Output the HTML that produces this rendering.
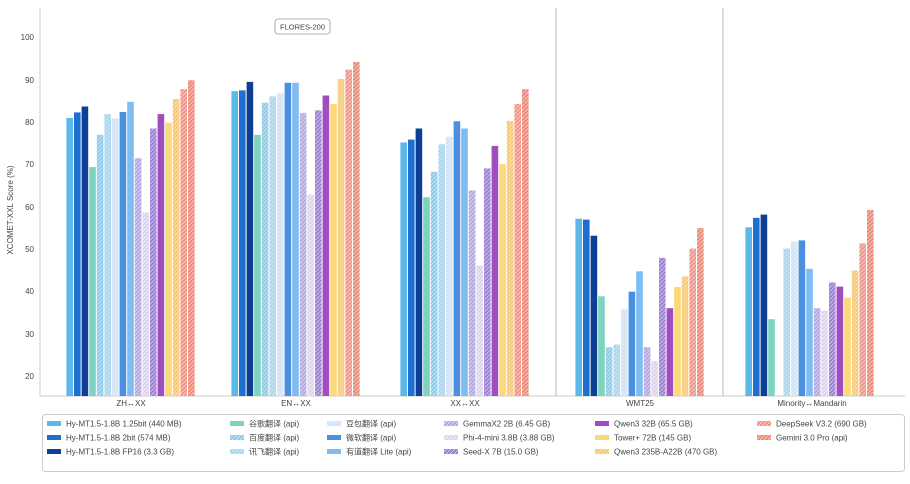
<!DOCTYPE html>
<html><head><meta charset="utf-8"><style>
html,body{margin:0;padding:0;background:#fff;}
svg{display:block;font-family:"Liberation Sans","Noto Sans CJK SC",sans-serif;}
.s0{fill:#5bb8e8}.s1{fill:#1f6fd1}.s2{fill:#0d3f94}.s3{fill:#7dd3c0}
.s4{fill:url(#p4)}.s5{fill:url(#p5)}.s6{fill:url(#p6)}.s7{fill:#4a8fe0}.s8{fill:#7fbcef}
.s9{fill:url(#p9)}.s10{fill:url(#p10)}.s11{fill:url(#p11)}.s12{fill:#a04dc0}.s13{fill:#fbd87a}
.s14{fill:url(#p14)}.s15{fill:url(#p15)}.s16{fill:url(#p16)}
.t{font-size:8px;fill:#444}
.lg{font-size:8px;fill:#444}
</style></head><body>
<svg width="910" height="484" viewBox="0 0 910 484" xmlns="http://www.w3.org/2000/svg">
<defs>
<pattern id="p4" width="4" height="4" patternUnits="userSpaceOnUse"><rect width="4" height="4" fill="#8ec9e8"/><path d="M0 4L4 0" stroke="#fff" stroke-width="0.8" opacity="0.6"/></pattern>
<pattern id="p5" width="4" height="4" patternUnits="userSpaceOnUse"><rect width="4" height="4" fill="#a8d4ee"/><path d="M0 4L4 0" stroke="#fff" stroke-width="0.8" opacity="0.6"/></pattern>
<pattern id="p6" width="4" height="4" patternUnits="userSpaceOnUse"><rect width="4" height="4" fill="#cfe3f5"/><path d="M0 4L4 0" stroke="#fff" stroke-width="0.8" opacity="0.6"/></pattern>
<pattern id="p9" width="4" height="4" patternUnits="userSpaceOnUse"><rect width="4" height="4" fill="#b4a8e0"/><path d="M0 4L4 0" stroke="#fff" stroke-width="0.8" opacity="0.6"/></pattern>
<pattern id="p10" width="4" height="4" patternUnits="userSpaceOnUse"><rect width="4" height="4" fill="#ddd5ef"/><path d="M0 4L4 0" stroke="#fff" stroke-width="0.8" opacity="0.6"/></pattern>
<pattern id="p11" width="4" height="4" patternUnits="userSpaceOnUse"><rect width="4" height="4" fill="#9b7fd6"/><path d="M0 4L4 0" stroke="#fff" stroke-width="0.8" opacity="0.6"/></pattern>
<pattern id="p14" width="4" height="4" patternUnits="userSpaceOnUse"><rect width="4" height="4" fill="#f7c873"/><path d="M0 4L4 0" stroke="#fff" stroke-width="0.8" opacity="0.6"/></pattern>
<pattern id="p15" width="4" height="4" patternUnits="userSpaceOnUse"><rect width="4" height="4" fill="#f0958a"/><path d="M0 4L4 0" stroke="#fff" stroke-width="0.8" opacity="0.6"/></pattern>
<pattern id="p16" width="4" height="4" patternUnits="userSpaceOnUse"><rect width="4" height="4" fill="#ee8a78"/><path d="M0 4L4 0" stroke="#fff" stroke-width="0.8" opacity="0.6"/></pattern>
</defs>

<!-- axes -->
<line x1="40" y1="8" x2="40" y2="396" stroke="#ccc"/>
<line x1="40" y1="396" x2="905" y2="396" stroke="#ccc"/>
<line x1="556" y1="8" x2="556" y2="396" stroke="#bbb"/>
<line x1="723" y1="8" x2="723" y2="396" stroke="#bbb"/>

<g class="t" text-anchor="end">
<text x="34" y="379">20</text><text x="34" y="337">30</text><text x="34" y="294">40</text>
<text x="34" y="252">50</text><text x="34" y="210">60</text><text x="34" y="167">70</text>
<text x="34" y="125">80</text><text x="34" y="83">90</text><text x="34" y="40">100</text>
</g>
<text class="t" transform="translate(13,210) rotate(-90)" text-anchor="middle">XCOMET-XXL Score (%)</text>

<rect x="275" y="19" width="55" height="15" rx="3" fill="#fff" stroke="#999" stroke-width="0.8"/>
<text x="302.5" y="29.5" font-size="7.5" fill="#444" text-anchor="middle">FLORES-200</text>

<g class="t" text-anchor="middle">
<text x="131" y="406">ZH↔XX</text><text x="296" y="406">EN↔XX</text><text x="465" y="406">XX↔XX</text>
<text x="640" y="406">WMT25</text><text x="812" y="406">Minority↔Mandarin</text>
</g>

<!-- G1 -->
<g transform="translate(66.4,0)">
<rect class="s0" x="0" y="117.9" width="6.6" height="278.1"/>
<rect class="s1" x="7.6" y="112.4" width="6.6" height="283.6"/>
<rect class="s2" x="15.2" y="106.5" width="6.6" height="289.5"/>
<rect class="s3" x="22.8" y="167.1" width="6.6" height="228.9"/>
<rect class="s4" x="30.4" y="134.9" width="6.6" height="261.1"/>
<rect class="s5" x="38" y="114.1" width="6.6" height="281.9"/>
<rect class="s6" x="45.6" y="118.4" width="6.6" height="277.6"/>
<rect class="s7" x="53.2" y="112" width="6.6" height="284"/>
<rect class="s8" x="60.8" y="101.8" width="6.6" height="294.2"/>
<rect class="s9" x="68.4" y="158.2" width="6.6" height="237.8"/>
<rect class="s10" x="76" y="212.4" width="6.6" height="183.6"/>
<rect class="s11" x="83.6" y="128.5" width="6.6" height="267.5"/>
<rect class="s12" x="91.2" y="114.1" width="6.6" height="281.9"/>
<rect class="s13" x="98.8" y="122.6" width="6.6" height="273.4"/>
<rect class="s14" x="106.4" y="98.9" width="6.6" height="297.1"/>
<rect class="s15" x="114" y="89.1" width="6.6" height="306.9"/>
<rect class="s16" x="121.6" y="80.2" width="6.6" height="315.8"/>
</g>
<!-- G2 -->
<g transform="translate(231.4,0)">
<rect class="s0" x="0" y="91.2" width="6.6" height="304.8"/>
<rect class="s1" x="7.6" y="90.4" width="6.6" height="305.6"/>
<rect class="s2" x="15.2" y="81.9" width="6.6" height="314.1"/>
<rect class="s3" x="22.8" y="134.9" width="6.6" height="261.1"/>
<rect class="s4" x="30.4" y="102.7" width="6.6" height="293.3"/>
<rect class="s5" x="38" y="96.3" width="6.6" height="299.7"/>
<rect class="s6" x="45.6" y="93.4" width="6.6" height="302.6"/>
<rect class="s7" x="53.2" y="82.8" width="6.6" height="313.2"/>
<rect class="s8" x="60.8" y="82.8" width="6.6" height="313.2"/>
<rect class="s9" x="68.4" y="112.9" width="6.6" height="283.1"/>
<rect class="s10" x="76" y="194.6" width="6.6" height="201.4"/>
<rect class="s11" x="83.6" y="110.3" width="6.6" height="285.7"/>
<rect class="s12" x="91.2" y="95.5" width="6.6" height="300.5"/>
<rect class="s13" x="98.8" y="104" width="6.6" height="292"/>
<rect class="s14" x="106.4" y="79" width="6.6" height="317"/>
<rect class="s15" x="114" y="69.6" width="6.6" height="326.4"/>
<rect class="s16" x="121.6" y="62" width="6.6" height="334"/>
</g>
<!-- G3 -->
<g transform="translate(400.4,0)">
<rect class="s0" x="0" y="142.5" width="6.6" height="253.5"/>
<rect class="s1" x="7.6" y="139.6" width="6.6" height="256.4"/>
<rect class="s2" x="15.2" y="128.5" width="6.6" height="267.5"/>
<rect class="s3" x="22.8" y="197.2" width="6.6" height="198.8"/>
<rect class="s4" x="30.4" y="171.8" width="6.6" height="224.2"/>
<rect class="s5" x="38" y="144.2" width="6.6" height="251.8"/>
<rect class="s6" x="45.6" y="136.6" width="6.6" height="259.4"/>
<rect class="s7" x="53.2" y="121.3" width="6.6" height="274.7"/>
<rect class="s8" x="60.8" y="128.5" width="6.6" height="267.5"/>
<rect class="s9" x="68.4" y="190.4" width="6.6" height="205.6"/>
<rect class="s10" x="76" y="265.4" width="6.6" height="130.6"/>
<rect class="s11" x="83.6" y="168.4" width="6.6" height="227.6"/>
<rect class="s12" x="91.2" y="145.9" width="6.6" height="250.1"/>
<rect class="s13" x="98.8" y="164.1" width="6.6" height="231.9"/>
<rect class="s14" x="106.4" y="120.9" width="6.6" height="275.1"/>
<rect class="s15" x="114" y="104" width="6.6" height="292"/>
<rect class="s16" x="121.6" y="89.1" width="6.6" height="306.9"/>
</g>
<!-- G4 -->
<g transform="translate(575.4,0)">
<rect class="s0" x="0" y="218.8" width="6.6" height="177.2"/>
<rect class="s1" x="7.6" y="219.6" width="6.6" height="176.4"/>
<rect class="s2" x="15.2" y="235.7" width="6.6" height="160.3"/>
<rect class="s3" x="22.8" y="296.3" width="6.6" height="99.7"/>
<rect class="s4" x="30.4" y="347.2" width="6.6" height="48.8"/>
<rect class="s5" x="38" y="344.6" width="6.6" height="51.4"/>
<rect class="s6" x="45.6" y="309.5" width="6.6" height="86.5"/>
<rect class="s7" x="53.2" y="291.7" width="6.6" height="104.3"/>
<rect class="s8" x="60.8" y="271.3" width="6.6" height="124.7"/>
<rect class="s9" x="68.4" y="347.2" width="6.6" height="48.8"/>
<rect class="s10" x="76" y="361.2" width="6.6" height="34.8"/>
<rect class="s11" x="83.6" y="257.8" width="6.6" height="138.2"/>
<rect class="s12" x="91.2" y="308.2" width="6.6" height="87.8"/>
<rect class="s13" x="98.8" y="287" width="6.6" height="109"/>
<rect class="s14" x="106.4" y="276.4" width="6.6" height="119.6"/>
<rect class="s15" x="114" y="248.5" width="6.6" height="147.5"/>
<rect class="s16" x="121.6" y="228.1" width="6.6" height="167.9"/>
</g>
<!-- G5 -->
<g transform="translate(745.4,0)">
<rect class="s0" x="0" y="227.3" width="6.6" height="168.7"/>
<rect class="s1" x="7.6" y="217.9" width="6.6" height="178.1"/>
<rect class="s2" x="15.2" y="214.6" width="6.6" height="181.4"/>
<rect class="s3" x="22.8" y="319.2" width="6.6" height="76.8"/>
<rect class="s5" x="38" y="248.5" width="6.6" height="147.5"/>
<rect class="s6" x="45.6" y="241.7" width="6.6" height="154.3"/>
<rect class="s7" x="53.2" y="240.4" width="6.6" height="155.6"/>
<rect class="s8" x="60.8" y="268.8" width="6.6" height="127.2"/>
<rect class="s9" x="68.4" y="308.2" width="6.6" height="87.8"/>
<rect class="s10" x="76" y="310.7" width="6.6" height="85.3"/>
<rect class="s11" x="83.6" y="282.4" width="6.6" height="113.6"/>
<rect class="s12" x="91.2" y="286.6" width="6.6" height="109.4"/>
<rect class="s13" x="98.8" y="297.6" width="6.6" height="98.4"/>
<rect class="s14" x="106.4" y="270.5" width="6.6" height="125.5"/>
<rect class="s15" x="114" y="243.4" width="6.6" height="152.6"/>
<rect class="s16" x="121.6" y="209.9" width="6.6" height="186.1"/>
</g>

<!-- legend -->
<rect x="42.5" y="414.5" width="862" height="57" rx="3" fill="#fff" stroke="#ccc"/>
<g class="lg">
<rect class="s0" x="47" y="421" width="14" height="5"/><text x="66" y="426.5">Hy-MT1.5-1.8B 1.25bit (440 MB)</text>
<rect class="s1" x="47" y="435" width="14" height="5"/><text x="66" y="440.5">Hy-MT1.5-1.8B 2bit (574 MB)</text>
<rect class="s2" x="47" y="449" width="14" height="5"/><text x="66" y="454.5">Hy-MT1.5-1.8B FP16 (3.3 GB)</text>

<rect class="s3" x="230" y="421" width="14" height="5"/><text x="249" y="426.5">谷歌翻译 (api)</text>
<rect class="s4" x="230" y="435" width="14" height="5"/><text x="249" y="440.5">百度翻译 (api)</text>
<rect class="s5" x="230" y="449" width="14" height="5"/><text x="249" y="454.5">讯飞翻译 (api)</text>

<rect class="s6" x="327" y="421" width="14" height="5"/><text x="346" y="426.5">豆包翻译 (api)</text>
<rect class="s7" x="327" y="435" width="14" height="5"/><text x="346" y="440.5">微软翻译 (api)</text>
<rect class="s8" x="327" y="449" width="14" height="5"/><text x="346" y="454.5">有道翻译 Lite (api)</text>

<rect class="s9" x="444" y="421" width="14" height="5"/><text x="463" y="426.5">GemmaX2 2B (6.45 GB)</text>
<rect class="s10" x="444" y="435" width="14" height="5"/><text x="463" y="440.5">Phi-4-mini 3.8B (3.88 GB)</text>
<rect class="s11" x="444" y="449" width="14" height="5"/><text x="463" y="454.5">Seed-X 7B (15.0 GB)</text>

<rect class="s12" x="595" y="421" width="14" height="5"/><text x="614" y="426.5">Qwen3 32B (65.5 GB)</text>
<rect class="s13" x="595" y="435" width="14" height="5"/><text x="614" y="440.5">Tower+ 72B (145 GB)</text>
<rect class="s14" x="595" y="449" width="14" height="5"/><text x="614" y="454.5">Qwen3 235B-A22B (470 GB)</text>

<rect class="s15" x="757" y="421" width="14" height="5"/><text x="776" y="426.5">DeepSeek V3.2 (690 GB)</text>
<rect class="s16" x="757" y="435" width="14" height="5"/><text x="776" y="440.5">Gemini 3.0 Pro (api)</text>
</g>
</svg>
</body></html>
